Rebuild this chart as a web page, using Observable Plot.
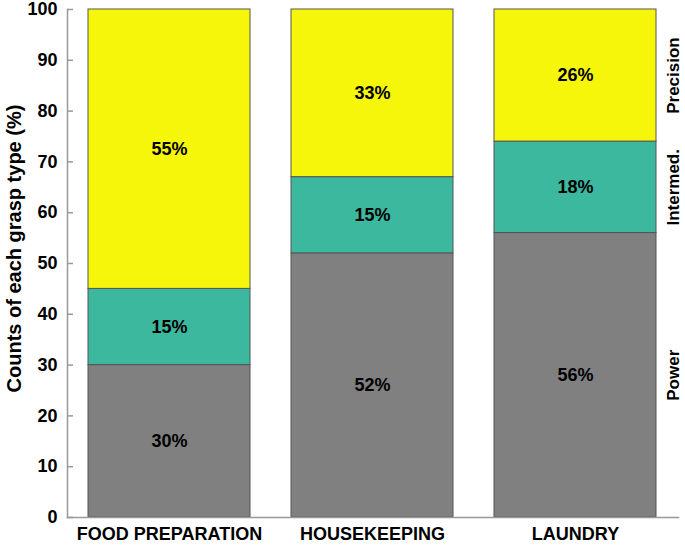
<!DOCTYPE html>
<html>
<head>
<meta charset="utf-8">
<script src="https://cdn.jsdelivr.net/npm/d3@7"></script>
<script src="https://cdn.jsdelivr.net/npm/@observablehq/plot@0.6"></script>
<style>
  html, body { margin: 0; padding: 0; background: #fff; }
  #chart { width: 685px; height: 550px; }
</style>
</head>
<body>
<div id="chart"></div>
<script>
const categories = ["FOOD PREPARATION", "HOUSEKEEPING", "LAUNDRY"];
const types = ["Power", "Intermed.", "Precision"];
const power = [30, 52, 56];
const intermed = [15, 15, 18];
const precision = [55, 33, 26];
const yTicks = [0, 10, 20, 30, 40, 50, 60, 70, 80, 90, 100];
const colors = ["#808080", "#3bb89d", "#f6f60a"];
const yTitle = "Counts of each grasp type (%)";

const series = [power, intermed, precision];
const rows = [];
categories.forEach((c, i) => {
  let base = 0;
  series.forEach((s, k) => {
    rows.push({cat: c, type: types[k], value: s[i], y1: base, y2: base + s[i], mid: base + s[i] / 2});
    base += s[i];
  });
});
const rightLabels = rows.filter(d => d.cat === "LAUNDRY");

const font = "'Liberation Sans', Arial, sans-serif";

const chart = Plot.plot({
  width: 685,
  height: 550,
  marginTop: 9,
  marginBottom: 33,
  marginLeft: 67,
  marginRight: 7,
  style: {fontFamily: font, background: "#fff"},
  x: {domain: categories, paddingInner: 0.2, paddingOuter: 0.1, label: null},
  y: {domain: [0, 100], label: null},
  color: {domain: types, range: colors},
  marks: [
    Plot.rectY(rows, {x: "cat", y1: "y1", y2: "y2", fill: "type", stroke: "#555", strokeWidth: 1}),
    Plot.text(rows, {x: "cat", y: "mid", text: d => d.value + "%", fontSize: 18, fontWeight: "bold", fill: "#000"}),
    Plot.text(rightLabels, {y: "mid", text: "type", frameAnchor: "right", textAnchor: "middle", dx: -5, rotate: -90, fontSize: 17, fontWeight: "bold", fill: "#000"}),
    Plot.frame({anchor: "left", stroke: "#999", strokeWidth: 1.5}),
    Plot.frame({anchor: "bottom", stroke: "#999", strokeWidth: 1.5}),
    Plot.axisY(yTicks, {tickSize: 6, dx: 6, tickFormat: () => "", stroke: "#999", strokeWidth: 1.5, label: null}),
    Plot.axisY(yTicks, {tickSize: 0, tickPadding: 10, fontSize: 18, fontWeight: "bold", fill: "#000", label: null}),
    Plot.axisX({tickSize: 0, tickPadding: 10, fontSize: 18, fontWeight: "bold", fill: "#000", label: null}),
    Plot.text([yTitle], {frameAnchor: "left", textAnchor: "middle", dx: -53, dy: -15, rotate: -90, fontSize: 20, fontWeight: "bold", fill: "#000"})
  ]
});
document.getElementById("chart").appendChild(chart);
</script>
</body>
</html>
